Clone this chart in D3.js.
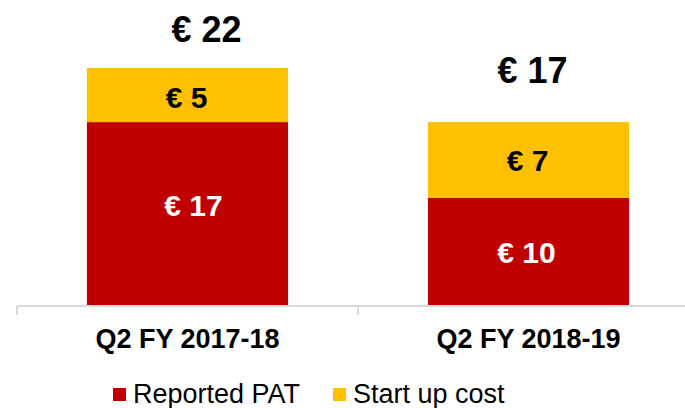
<!DOCTYPE html>
<html lang="en">
<head>
<meta charset="UTF-8">
<title>Reported PAT and start up cost</title>
<script src="https://cdn.jsdelivr.net/npm/d3@7"></script>
<style>
  html, body { margin: 0; padding: 0; background: #fff; }
  svg text { font-family: "Liberation Sans", Arial, sans-serif; }
</style>
</head>
<body>
<div id="chart"></div>
<script>
// data
const categories = ["Q2 FY 2017-18", "Q2 FY 2018-19"];
const reportedPat = [17, 10];
const startUpCost = [5, 7];
const seriesNames = ["Reported PAT", "Start up cost"];

const width = 685, height = 408;
const colors = { "Reported PAT": "#C00000", "Start up cost": "#FFC000" };
const textColors = { "Reported PAT": "#fff", "Start up cost": "#000" };
// labels were hand-placed in the original deck, so nudge a few of them
const totalNudge = [{ dx: 19, dy: -26 }, { dx: 4, dy: -39 }];
const segNudge = {
  "Reported PAT": [{ dx: 6, dy: -9 }, { dx: -2, dy: 0 }],
  "Start up cost": [{ dx: -1, dy: 2 }, { dx: -1, dy: 0 }]
};

const rows = categories.map((c, i) => ({
  category: c,
  "Reported PAT": reportedPat[i],
  "Start up cost": startUpCost[i]
}));
const stacked = d3.stack().keys(seriesNames)(rows);

const svg = d3.select("#chart").append("svg")
  .attr("width", width)
  .attr("height", height);

const x = d3.scaleBand()
  .domain(categories)
  .range([17, 699])
  .padding(0);

const barW = x.bandwidth() * 0.59;
const barX = c => x(c) + (x.bandwidth() - barW) / 2;

const maxTotal = d3.max(rows, r => r["Reported PAT"] + r["Start up cost"]);
const y = d3.scaleLinear()
  .domain([0, maxTotal])
  .range([306, 68]);

// bars
const layers = svg.selectAll(".layer")
  .data(stacked)
  .join("g")
  .attr("class", "layer")
  .attr("fill", d => colors[d.key]);

layers.selectAll("rect")
  .data(d => d)
  .join("rect")
  .attr("x", d => barX(d.data.category))
  .attr("y", d => y(d[1]))
  .attr("width", barW)
  .attr("height", d => y(d[0]) - y(d[1]));

// segment labels
stacked.forEach(layer => {
  svg.append("g").selectAll("text")
    .data(layer)
    .join("text")
    .attr("x", (d, i) => x(d.data.category) + x.bandwidth() / 2 + segNudge[layer.key][i].dx)
    .attr("y", (d, i) => (y(d[0]) + y(d[1])) / 2 + segNudge[layer.key][i].dy)
    .attr("dy", "0.36em")
    .attr("text-anchor", "middle")
    .attr("font-size", 30)
    .attr("font-weight", "bold")
    .attr("fill", textColors[layer.key])
    .text(d => "€ " + (d[1] - d[0]));
});

// totals
svg.append("g").selectAll("text")
  .data(rows)
  .join("text")
  .attr("x", (d, i) => x(d.category) + x.bandwidth() / 2 + totalNudge[i].dx)
  .attr("y", d => y(d["Reported PAT"] + d["Start up cost"]))
  .attr("dy", (d, i) => totalNudge[i].dy)
  .attr("text-anchor", "middle")
  .attr("font-size", 36)
  .attr("font-weight", "bold")
  .attr("fill", "#000")
  .text(d => "€ " + (d["Reported PAT"] + d["Start up cost"]));

// axis
const axis = svg.append("g").attr("transform", `translate(0,${y(0)})`);
axis.append("line")
  .attr("x1", x.range()[0]).attr("x2", x.range()[1])
  .attr("stroke", "#d9d9d9").attr("stroke-width", 2);
const boundaries = categories.map(c => x(c)).concat([x.range()[1]]);
axis.selectAll(".tick")
  .data(boundaries)
  .join("line")
  .attr("x1", d => d).attr("x2", d => d)
  .attr("y1", 0).attr("y2", 9)
  .attr("stroke", "#d9d9d9").attr("stroke-width", 2);
axis.selectAll(".cat")
  .data(categories)
  .join("text")
  .attr("x", d => x(d) + x.bandwidth() / 2)
  .attr("y", 42)
  .attr("text-anchor", "middle")
  .attr("font-size", 27)
  .attr("font-weight", "bold")
  .attr("fill", "#000")
  .text(d => d);

// legend
const legendX = [113, 333];
const legend = svg.append("g").attr("transform", "translate(0,388)");
const items = legend.selectAll("g")
  .data(seriesNames)
  .join("g")
  .attr("transform", (d, i) => `translate(${legendX[i]},0)`);
items.append("rect")
  .attr("width", 13).attr("height", 13)
  .attr("fill", d => colors[d]);
items.append("text")
  .attr("x", 20)
  .attr("y", 15)
  .attr("font-size", 27)
  .attr("fill", "#000")
  .text(d => d);
</script>
</body>
</html>
